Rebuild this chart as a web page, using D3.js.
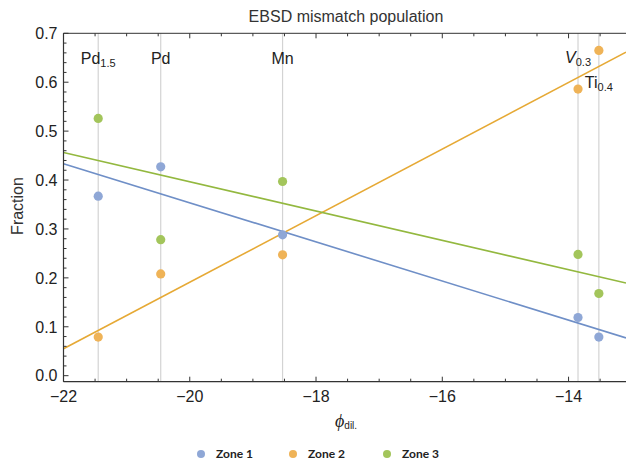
<!DOCTYPE html>
<html>
<head>
<meta charset="utf-8">
<script src="https://cdn.jsdelivr.net/npm/d3@7"></script>
<style>
  body { margin: 0; background: #fff; }
  svg { display: block; }
</style>
</head>
<body>
<div id="chart"></div>
<script>
const width = 626;
const height = 467;

// compositions along the x axis (phi_dil.)
const elements = ["Pd", "Pd", "Mn", "V", "Ti"];
const subscripts = ["1.5", "", "", "0.3", "0.4"];
const phiDil = [-21.45, -20.46, -18.53, -13.85, -13.52];

const zoneNames = ["Zone 1", "Zone 2", "Zone 3"];
const zone1 = [0.367, 0.427, 0.288, 0.119, 0.079];
const zone2 = [0.079, 0.208, 0.247, 0.586, 0.665];
const zone3 = [0.526, 0.278, 0.397, 0.248, 0.168];

const xTicks = [-22, -20, -18, -16, -14];
const yTicks = [0.0, 0.1, 0.2, 0.3, 0.4, 0.5, 0.6, 0.7];

const pointColors = ["#8fa7d6", "#efb357", "#a3c55b"];
const lineColors = ["#6f8fc7", "#e6a935", "#93b83f"];

const series = [zone1, zone2, zone3].map((vals, k) => ({
  name: zoneNames[k],
  points: vals.map((v, i) => ({ x: phiDil[i], y: v }))
}));

const margin = { left: 63.5, right: 0, top: 33.3, bottom: 85.3 };

const x = d3.scaleLinear()
  .domain([-22, -13.09])
  .range([margin.left, width - margin.right]);

const y = d3.scaleLinear()
  .domain([-0.0123, 0.7])
  .range([height - margin.bottom, margin.top]);

const svg = d3.select("#chart").append("svg")
  .attr("width", width)
  .attr("height", height)
  .style("font-family", "'Liberation Sans', Arial, sans-serif");

svg.append("defs").append("clipPath").attr("id", "plot")
  .append("rect")
  .attr("x", x.range()[0]).attr("y", y.range()[1])
  .attr("width", x.range()[1] - x.range()[0])
  .attr("height", y.range()[0] - y.range()[1]);

// title
svg.append("text")
  .attr("x", 346).attr("y", 22)
  .attr("text-anchor", "middle")
  .style("font-size", "16px")
  .style("fill", "#333")
  .text("EBSD mismatch population");

// vertical reference lines
svg.append("g").selectAll("line")
  .data(phiDil)
  .join("line")
  .attr("x1", d => x(d)).attr("x2", d => x(d))
  .attr("y1", y.range()[1]).attr("y2", y.range()[0])
  .attr("stroke", "#d3d3d3")
  .attr("stroke-width", 1.2);

// least squares fit for each zone
function fit(pts) {
  const mx = d3.mean(pts, d => d.x);
  const my = d3.mean(pts, d => d.y);
  const sxy = d3.sum(pts, d => (d.x - mx) * (d.y - my));
  const sxx = d3.sum(pts, d => (d.x - mx) ** 2);
  const b = sxy / sxx;
  return xv => my + b * (xv - mx);
}

const lineGen = d3.line().x(d => x(d[0])).y(d => y(d[1]));

svg.append("g").attr("clip-path", "url(#plot)")
  .selectAll("path")
  .data(series)
  .join("path")
  .attr("d", (s) => {
    const f = fit(s.points);
    return lineGen(x.domain().map(v => [v, f(v)]));
  })
  .attr("fill", "none")
  .attr("stroke", (s, i) => lineColors[i])
  .attr("stroke-width", 1.6);

// points
svg.append("g").selectAll("g")
  .data(series)
  .join("g")
  .attr("fill", (s, i) => pointColors[i])
  .selectAll("circle")
  .data(s => s.points)
  .join("circle")
  .attr("cx", d => x(d.x))
  .attr("cy", d => y(d.y))
  .attr("r", 4.6);

// composition labels
const labelY = [64, 64, 64, 63, 88];
const labels = svg.append("g").selectAll("text")
  .data(elements)
  .join("text")
  .attr("x", (d, i) => x(phiDil[i]))
  .attr("y", (d, i) => labelY[i])
  .attr("text-anchor", "middle")
  .style("font-size", "16px")
  .style("fill", "#222");
labels.append("tspan")
  .style("font-style", (d, i) => d === "V" ? "italic" : "normal")
  .text(d => d);
labels.append("tspan")
  .attr("dy", 3)
  .style("font-size", "11px")
  .text((d, i) => subscripts[i]);

// frame and axes
const axisColor = "#333";
const frame = svg.append("g").attr("stroke", axisColor).attr("fill", "none");
frame.append("line")
  .attr("x1", x.range()[0]).attr("x2", x.range()[1])
  .attr("y1", y.range()[0]).attr("y2", y.range()[0]).attr("stroke-width", 1.2);
frame.append("line")
  .attr("x1", x.range()[0]).attr("x2", x.range()[1])
  .attr("y1", y.range()[1]).attr("y2", y.range()[1]).attr("stroke-width", 1);
frame.append("line")
  .attr("x1", x.range()[0]).attr("x2", x.range()[0])
  .attr("y1", y.range()[1]).attr("y2", y.range()[0]).attr("stroke-width", 1.2);

const xMinor = d3.range(-22, -13.0, 0.5);
const yMinor = d3.range(0, 0.701, 0.02);

// bottom & top ticks
[y.range()[0], y.range()[1]].forEach((yy, k) => {
  const dir = k === 0 ? -1 : 1;
  frame.selectAll(null)
    .data(xMinor)
    .join("line")
    .attr("x1", d => x(d)).attr("x2", d => x(d))
    .attr("y1", yy)
    .attr("y2", d => yy + dir * (Math.abs(d % 2) < 1e-6 ? 5 : 3))
    .attr("stroke-width", 1);
});

frame.selectAll(null)
  .data(yMinor)
  .join("line")
  .attr("y1", d => y(d)).attr("y2", d => y(d))
  .attr("x1", x.range()[0])
  .attr("x2", d => x.range()[0] + (Math.abs(Math.round(d * 10) - d * 10) < 1e-6 ? 5 : 3))
  .attr("stroke-width", 1);

svg.append("g").selectAll("text")
  .data(xTicks)
  .join("text")
  .attr("x", d => x(d))
  .attr("y", 402)
  .attr("text-anchor", "middle")
  .style("font-size", "16px")
  .style("fill", "#222")
  .text(d => d3.format("d")(d).replace("-", "\u2212"));

svg.append("g").selectAll("text")
  .data(yTicks)
  .join("text")
  .attr("x", x.range()[0] - 6)
  .attr("y", d => y(d))
  .attr("dy", "0.36em")
  .attr("text-anchor", "end")
  .style("font-size", "16px")
  .style("fill", "#222")
  .text(d => d3.format(".1f")(d));

// axis titles
svg.append("text")
  .attr("transform", "translate(23,206) rotate(-90)")
  .attr("text-anchor", "middle")
  .style("font-size", "16px")
  .style("fill", "#333")
  .text("Fraction");

const xTitle = svg.append("text")
  .attr("x", 335).attr("y", 427)
  .style("fill", "#222");
xTitle.append("tspan")
  .style("font-family", "'Liberation Serif', 'DejaVu Serif', serif")
  .style("font-style", "italic")
  .style("font-size", "18px")
  .text("\u03D5");
xTitle.append("tspan")
  .attr("dy", 2)
  .style("font-size", "10px")
  .text("dil.");

// legend
const legendX = [201, 293, 387];
const legend = svg.append("g").selectAll("g")
  .data(zoneNames)
  .join("g")
  .attr("transform", (d, i) => `translate(${legendX[i]},454)`);
legend.append("circle")
  .attr("r", 4)
  .attr("fill", (d, i) => pointColors[i]);
legend.append("text")
  .attr("x", 15)
  .attr("dy", "0.35em")
  .style("font-family", "Lato, 'Open Sans', sans-serif")
  .style("font-weight", "bold")
  .style("font-size", "12px")
  .style("fill", "#222")
  .text(d => d);
</script>
</body>
</html>
